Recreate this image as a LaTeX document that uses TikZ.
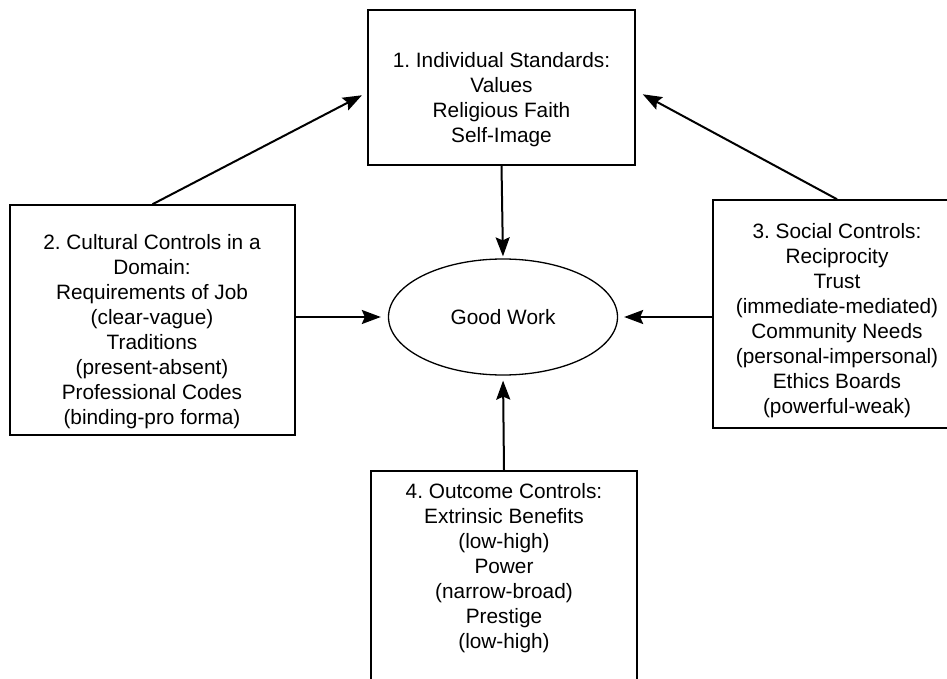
\documentclass[tikz,border=0pt]{standalone}
\usepackage{fontspec}
\setmainfont{Liberation Sans}
\usetikzlibrary{
    arrows.meta,
    shapes.geometric,
    positioning
}
\frenchspacing

\begin{document}
\begin{tikzpicture}[x=1pt, y=-1pt,
        box/.style={draw, line width=1.5pt, inner sep=0pt},
        words/.style={align=center, inner sep=0pt, font=\fontsize{20.8}{25}\selectfont},
        link/.style={-{Stealth[length=19pt, width=14pt, inset=3pt]}, line width=2pt}]
    \useasboundingbox (0, 0) rectangle (947, 679);
    \clip (0, 0) rectangle (947, 679);
    % the four groups of controls
    \node[box, minimum width=267pt, minimum height=155pt] (ind) at (501.5, 87.5) {};
    \node[words] (indtxt) at (501.5, 100) {1. Individual Standards:\\ Values\\ Religious Faith\\ Self-Image};
    \node[box, minimum width=285pt, minimum height=230pt] (cul) at (152.5, 320) {};
    \node[words] (cultxt) at (152, 331.5) {2. Cultural Controls in a\\ Domain:\\ Requirements of Job\\ (clear-vague)\\ Traditions\\ (present-absent)\\ Professional Codes\\ (binding-pro forma)};
    \node[box, minimum width=248pt, minimum height=228pt] (soc) at (837, 314) {};
    \node[words] (soctxt) at (837, 320.5) {3. Social Controls:\\ Reciprocity\\ Trust\\ (immediate-mediated)\\ Community Needs\\ (personal-impersonal)\\ Ethics Boards\\ (powerful-weak)};
    \node[box, minimum width=266pt, minimum height=219pt] (out) at (504, 580.5) {};
    \node[words] (outtxt) at (504, 568.5) {4. Outcome Controls:\\ Extrinsic Benefits\\ (low-high)\\ Power\\ (narrow-broad)\\ Prestige\\ (low-high)};
    % centre
    \node[ellipse, draw, line width=1.3pt, inner sep=0pt, minimum width=229pt, minimum height=116pt,
        font=\fontsize{20.8}{25}\selectfont] (gw) at (503, 317) {Good Work};
    % arrows
    \draw[link, shorten >=2pt] (ind.south) -- (gw.north);
    \draw[link, shorten >=7pt] (gw.west -| cul.east) -- (gw.west);
    \draw[link, shorten >=6pt] (gw.east -| soc.west) -- (gw.east);
    \draw[link, shorten >=5pt] (out.north) -- (gw.south);
    \draw[link, shorten >=6pt] (cul.north) -- ([yshift=-5pt]ind.west);
    \draw[link, shorten >=8pt] (soc.north) -- ([yshift=-3pt]ind.east);
\end{tikzpicture}
\end{document}
